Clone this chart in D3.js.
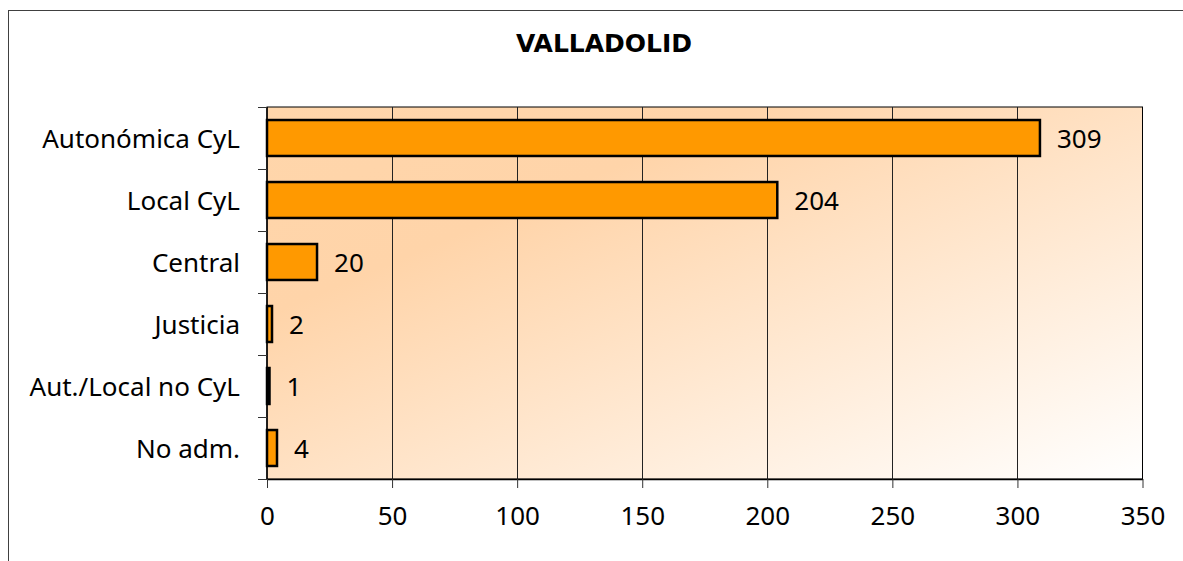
<!DOCTYPE html>
<html>
<head>
<meta charset="utf-8">
<script src="https://cdn.jsdelivr.net/npm/d3@7"></script>
<style>
  html, body { margin: 0; padding: 0; background: #fff; }
  svg { display: block; font-family: Tahoma, "Noto Sans", sans-serif; }
</style>
</head>
<body>
<svg id="chart" width="1183" height="561"></svg>
<script>
// data
const title = "VALLADOLID";
const categories = ["Autonómica CyL", "Local CyL", "Central", "Justicia", "Aut./Local no CyL", "No adm."];
const values = [309, 204, 20, 2, 1, 4];
const xTicks = [0, 50, 100, 150, 200, 250, 300, 350];

const W = 1183, H = 561;
const plot = { left: 267, right: 1142.5, top: 107, bottom: 479 };
const fs = 26;

const svg = d3.select("#chart");

// outer chart border (continues past the window on the right / bottom)
svg.append("rect")
    .attr("x", 8.5).attr("y", 10.5)
    .attr("width", 1300).attr("height", 700)
    .attr("fill", "#fff")
    .attr("stroke", "#404040")
    .attr("stroke-width", 1);

// background gradient of the plot area
const defs = svg.append("defs");
const grad = defs.append("linearGradient")
    .attr("id", "bgGrad")
    .attr("x1", 0).attr("y1", 0).attr("x2", 1).attr("y2", 1);
grad.append("stop").attr("offset", "0%").attr("stop-color", "#ffd6ab");
grad.append("stop").attr("offset", "28%").attr("stop-color", "#ffd4a9");
grad.append("stop").attr("offset", "100%").attr("stop-color", "#ffffff");

const x = d3.scaleLinear()
    .domain([0, 350])
    .range([plot.left, plot.right]);

const y = d3.scaleBand()
    .domain(categories)
    .range([plot.top, plot.bottom])
    .paddingInner(0.42)
    .paddingOuter(0.21);

const yLines = d3.scaleBand()
    .domain(categories)
    .range([plot.top, plot.bottom]);

svg.append("rect")
    .attr("x", plot.left).attr("y", plot.top)
    .attr("width", plot.right - plot.left)
    .attr("height", plot.bottom - plot.top)
    .attr("fill", "url(#bgGrad)")
    .attr("stroke", "#000")
    .attr("stroke-width", 1);

// vertical grid lines
svg.append("g")
    .selectAll("line")
    .data(xTicks.slice(1, -1))
    .join("line")
    .attr("x1", d => Math.round(x(d)) + 0.5)
    .attr("x2", d => Math.round(x(d)) + 0.5)
    .attr("y1", plot.top)
    .attr("y2", plot.bottom)
    .attr("stroke", "#222")
    .attr("stroke-width", 1);

// x axis
const xAxis = svg.append("g")
    .attr("transform", `translate(0,${plot.bottom})`)
    .call(d3.axisBottom(x).tickValues(xTicks).tickSize(9).tickPadding(19).tickSizeOuter(0));
xAxis.select(".domain").attr("stroke", "#000").attr("stroke-width", 1.5);
xAxis.selectAll(".tick line").attr("stroke", "#333");
xAxis.selectAll("text")
    .attr("font-size", fs)
    .attr("font-family", "Tahoma, 'Noto Sans', sans-serif")
    .attr("fill", "#000");

// y axis: tick marks on band boundaries
const yAx = svg.append("g");
yAx.append("line")
    .attr("x1", plot.left).attr("x2", plot.left)
    .attr("y1", plot.top).attr("y2", plot.bottom)
    .attr("stroke", "#000").attr("stroke-width", 1.5);
const bounds = categories.map(c => yLines(c)).concat([plot.bottom]);
yAx.selectAll("line.tk")
    .data(bounds)
    .join("line")
    .attr("class", "tk")
    .attr("x1", plot.left - 9).attr("x2", plot.left)
    .attr("y1", d => Math.round(d) + 0.5).attr("y2", d => Math.round(d) + 0.5)
    .attr("stroke", "#333");
yAx.selectAll("text")
    .data(categories)
    .join("text")
    .attr("x", 240)
    .attr("y", d => yLines(d) + yLines.bandwidth() / 2)
    .attr("dy", "0.37em")
    .attr("text-anchor", "end")
    .attr("font-size", fs)
    .attr("fill", "#000")
    .text(d => d);

// bars
svg.append("g")
    .selectAll("rect")
    .data(values)
    .join("rect")
    .attr("x", x(0))
    .attr("y", (d, i) => y(categories[i]))
    .attr("width", d => x(d) - x(0))
    .attr("height", y.bandwidth())
    .attr("fill", "#ff9900")
    .attr("stroke", "#000")
    .attr("stroke-width", 2.5);

// value labels
svg.append("g")
    .selectAll("text")
    .data(values)
    .join("text")
    .attr("x", d => x(d) + 17)
    .attr("y", (d, i) => y(categories[i]) + y.bandwidth() / 2)
    .attr("dy", "0.37em")
    .attr("font-size", fs)
    .attr("fill", "#000")
    .text(d => d);

// title
svg.append("text")
    .attr("x", 604).attr("y", 52)
    .attr("text-anchor", "middle")
    .attr("font-family", "'DejaVu Sans', sans-serif")
    .attr("font-size", 25)
    .attr("font-weight", "bold")
    .attr("fill", "#000")
    .text(title);
</script>
</body>
</html>
